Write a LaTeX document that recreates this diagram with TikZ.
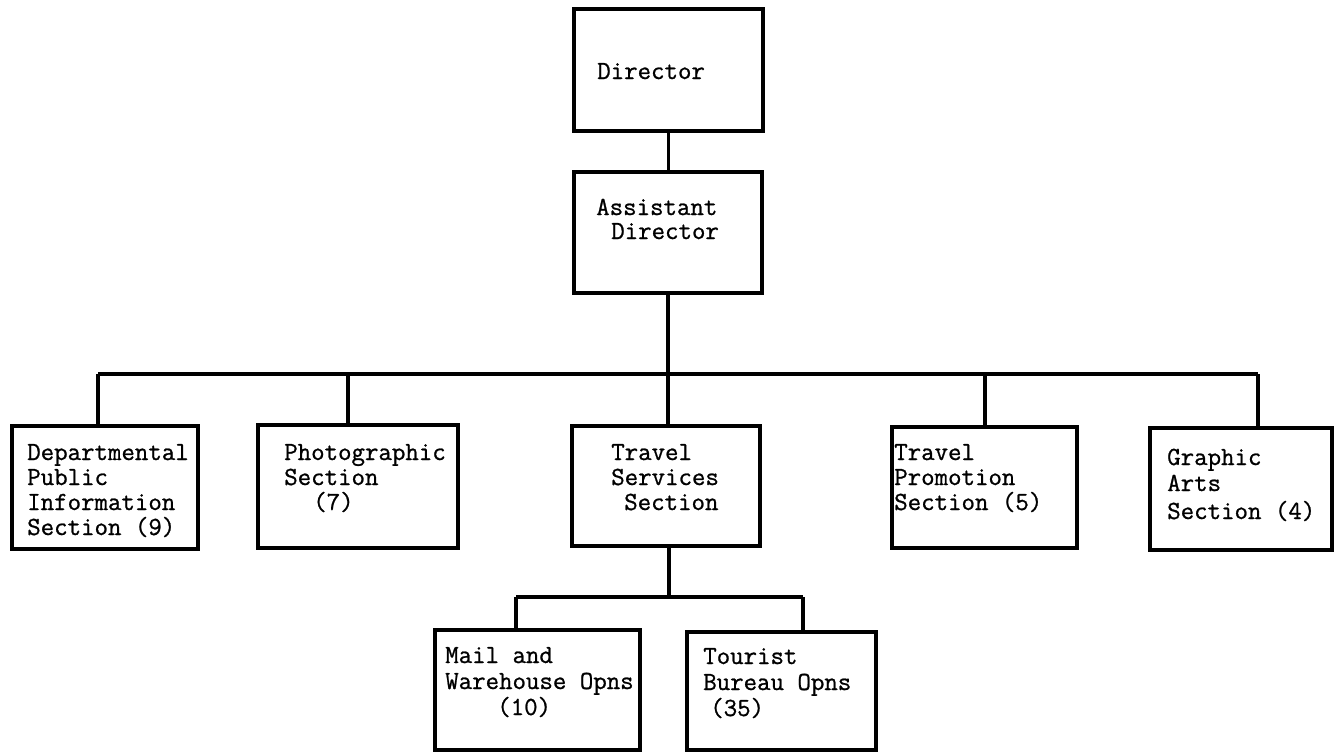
\documentclass[tikz,border=0pt]{standalone}
\usepackage{fontspec}
\setmonofont{Latin Modern Mono}[FakeBold=0.9]
\begin{document}
\begin{tikzpicture}[x=0.75pt,y=-0.75pt,
  orgbox/.style 2 args={draw, line width=2.5pt, inner sep=0pt,
    minimum width={(#1)*0.75pt}, minimum height={(#2)*0.75pt}},
  wire/.style={line width=2.4pt},
  lbl/.style={anchor=base west, inner sep=0pt,
    font=\ttfamily\fontsize{19.6}{23}\selectfont}]
\useasboundingbox (0,0) rectangle (1340,753);

% boxes
\node[orgbox={189}{122}] (dir)   at (668.5,70)  {};
\node[orgbox={188}{121}] (asst)  at (668,232.5) {};
\node[orgbox={186}{123}] (dpi)   at (105,487.5) {};
\node[orgbox={200}{123}] (photo) at (358,486.5) {};
\node[orgbox={188}{120}] (tss)   at (666,486)   {};
\node[orgbox={185}{121}] (tprom) at (984.5,487.5) {};
\node[orgbox={182}{122}] (gfx)   at (1241,489)  {};
\node[orgbox={205}{120}] (mail)  at (537.5,690) {};
\node[orgbox={189}{118}] (tour)  at (781.5,691) {};

% labels
\node[lbl] (dir-a) at (597,79) {Director};
\node[lbl] (asst-a) at (596,215) {Assistant};
\node[lbl] (asst-b) at (611,239) {Director};
\node[lbl] (dpi-a) at (27,460) {Departmental};
\node[lbl] (dpi-b) at (27,485) {Public};
\node[lbl] (dpi-c) at (27,510) {Information};
\node[lbl] (dpi-d) at (27,535) {Section (9)};
\node[lbl] (photo-a) at (284,460) {Photographic};
\node[lbl] (photo-b) at (284,485) {Section};
\node[lbl] (photo-c) at (313,510) {(7)};
\node[lbl] (tss-a) at (611,460) {Travel};
\node[lbl] (tss-b) at (611,485) {Services};
\node[lbl] (tss-c) at (624,510) {Section};
\node[lbl] (tprom-a) at (894,460) {Travel};
\node[lbl] (tprom-b) at (894,485) {Promotion};
\node[lbl] (tprom-c) at (894,510) {Section (5)};
\node[lbl] (gfx-a) at (1167,465) {Graphic};
\node[lbl] (gfx-b) at (1167,491) {Arts};
\node[lbl] (gfx-c) at (1167,519) {Section (4)};
\node[lbl] (mail-a) at (445,663) {Mail and};
\node[lbl] (mail-b) at (445,689) {Warehouse Opns};
\node[lbl] (mail-c) at (497,715) {(10)};
\node[lbl] (tour-a) at (703,664) {Tourist};
\node[lbl] (tour-b) at (703,690) {Bureau Opns};
\node[lbl] (tour-c) at (710,716) {(35)};

% bus taps
\coordinate (b1) at (98,374);
\coordinate (b2) at (348,374);
\coordinate (b3) at (668,374);
\coordinate (b4) at (985,374);
\coordinate (b5) at (1258,374);
\coordinate (s0) at (669,597);
\coordinate (s1) at (516,597);
\coordinate (s2) at (803,597);

% connectors
\draw[wire] (dir.south) -- (dir.south |- asst.north);
\draw[wire] (asst.south) -- (asst.south |- b3);
\draw[wire] (b1) -- (b5);
\draw[wire] (b1) -- (b1 |- dpi.north);
\draw[wire] (b2) -- (b2 |- photo.north);
\draw[wire] (b3) -- (b3 |- tss.north);
\draw[wire] (b4) -- (b4 |- tprom.north);
\draw[wire] (b5) -- (b5 |- gfx.north);
\draw[wire] (s0 |- tss.south) -- (s0);
\draw[wire] (s1) -- (s2);
\draw[wire] (s1) -- (s1 |- mail.north);
\draw[wire] (s2) -- (s2 |- tour.north);
\end{tikzpicture}
\end{document}
